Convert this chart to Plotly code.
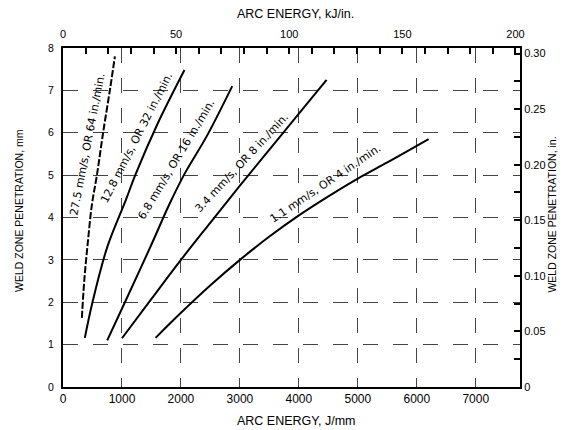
import math
import plotly.graph_objects as go

# ---- data (J/mm, mm) ----
c1_x = [320, 360, 420, 490, 575, 680, 800, 880]
c1_y = [1.63, 2.5, 3.4, 4.3, 5.0, 6.0, 7.05, 7.8]
c2_x = [370, 500, 750, 1065, 1225, 1600, 2060]
c2_y = [1.16, 2.0, 3.3, 4.41, 5.0, 6.2, 7.48]
c3_x = [750, 1050, 1480, 1800, 2050, 2450, 2870]
c3_y = [1.1, 2.0, 3.3, 4.3, 5.0, 5.95, 7.1]
c4_x = [1000, 1500, 2000, 2500, 3000, 3500, 4000, 4470]
c4_y = [1.15, 2.08, 3.0, 3.88, 4.75, 5.6, 6.45, 7.25]
c5_x = [1570, 2000, 2500, 3000, 3500, 4000, 4500, 5000, 5500, 6200]
c5_y = [1.16, 1.75, 2.4, 3.0, 3.55, 4.05, 4.5, 4.92, 5.3, 5.85]

labels = ["27.5 mm/s, OR 64 in./min.", "12.8 mm/s, OR 32 in./min.",
          "6.8 mm/s, OR 16 in./min.", "3.4 mm/s, OR 8 in./min.",
          "1.1 mm/s, OR 4 in./min."]
label_x = [490, 1340, 2000, 3085, 4510]
label_y = [5.72, 5.83, 5.3, 5.24, 4.69]
label_angle = [-79, -63, -59, -47, -34]
label_shift = [4, 6, 5, 4, 6]

bottom_ticks = [0, 1000, 2000, 3000, 4000, 5000, 6000, 7000]
left_ticks = [0, 1, 2, 3, 4, 5, 6, 7, 8]
top_ticks = [0, 50, 100, 150, 200]
right_ticks = [0, 0.05, 0.10, 0.15, 0.20, 0.25, 0.30]
right_text = ["0", "0.05", "0.10", "0.15", "0.20", "0.25", "0.30"]

FONT = "Liberation Sans"
LFONT = "DejaVu Sans"
fig = go.Figure()
curves = [(c1_x, c1_y, True), (c2_x, c2_y, False), (c3_x, c3_y, False),
          (c4_x, c4_y, False), (c5_x, c5_y, False)]
for cx, cy, dashed in curves:
    fig.add_trace(go.Scatter(x=cx, y=cy, mode="lines", line_shape="spline",
                             line=dict(color="black", width=2,
                                       dash=("7px,2px" if dashed else "solid")),
                             showlegend=False, hoverinfo="skip"))
# invisible trace for top/right axes
fig.add_trace(go.Scatter(x=[0], y=[0], xaxis="x2", yaxis="y2", mode="markers",
                         marker=dict(opacity=0), showlegend=False, hoverinfo="skip"))

for t, lx, ly, a, d in zip(labels, label_x, label_y, label_angle, label_shift):
    th = math.radians(-a)
    fig.add_annotation(x=lx, y=ly, text=t, textangle=a, showarrow=False,
                       xanchor="center", yanchor="middle",
                       xshift=-d * math.sin(th), yshift=d * math.cos(th),
                       font=dict(family=LFONT, size=11, color="black"))

fig.update_layout(
    width=563, height=430,
    margin=dict(l=63, r=43, t=48, b=43),
    plot_bgcolor="white", paper_bgcolor="white",
    xaxis=dict(range=[0, 7750], tickvals=bottom_ticks, showgrid=True,
               gridcolor="#444", gridwidth=1, griddash="longdash",
               showline=True, linecolor="black", linewidth=2, ticks="",
               tickfont=dict(family=FONT, size=12, color="black"), zeroline=False),
    yaxis=dict(range=[0, 8], tickvals=left_ticks, showgrid=True,
               gridcolor="#444", gridwidth=1, griddash="longdash",
               showline=True, linecolor="black", linewidth=2, ticks="",
               ticklabelstandoff=5,
               tickfont=dict(family=FONT, size=10.5, color="black"), zeroline=False),
    xaxis2=dict(range=[0, 202], overlaying="x", side="top", anchor="y",
                tickvals=top_ticks, showgrid=False, showline=True,
                linecolor="black", linewidth=2, ticks="inside", ticklen=6,
                tickcolor="black", tickwidth=1.5, ticklabelstandoff=4,
                minor=dict(dtick=10, ticks="inside", ticklen=6, tickcolor="black", tickwidth=1.5),
                tickfont=dict(family=FONT, size=11, color="black"), zeroline=False),
    yaxis2=dict(range=[0, 0.305], overlaying="y", side="right", anchor="x",
                tickvals=right_ticks, ticktext=right_text, showgrid=False,
                showline=True, linecolor="black", linewidth=2, ticks="inside",
                ticklen=6, tickcolor="black", tickwidth=1.5,
                minor=dict(tickvals=[0.025, 0.075, 0.125, 0.175, 0.225, 0.275], ticks="inside",
                           ticklen=6, tickcolor="black", tickwidth=1.5),
                tickfont=dict(family=FONT, size=11, color="black"), zeroline=False),
)

fig.add_annotation(xref="paper", yref="paper", x=-0.0963, y=0.522, text="WELD ZONE PENETRATION, mm",
                   textangle=-90, showarrow=False, xanchor="center", yanchor="middle",
                   font=dict(family=FONT, size=10.5, color="black"))
fig.add_annotation(xref="paper", yref="paper", x=1.071, y=0.51, text="WELD ZONE PENETRATION, in.",
                   textangle=-90, showarrow=False, xanchor="center", yanchor="middle",
                   font=dict(family=FONT, size=10.5, color="black"))
fig.add_annotation(xref="paper", yref="paper", x=0.508, y=1.10, text="ARC ENERGY, kJ/in.",
                   showarrow=False, xanchor="center", yanchor="middle",
                   font=dict(family=FONT, size=12.5, color="black"))
fig.add_annotation(xref="paper", yref="paper", x=0.512, y=-0.10, text="ARC ENERGY, J/mm",
                   showarrow=False, xanchor="center", yanchor="middle",
                   font=dict(family=FONT, size=12.5, color="black"))

fig.write_html("out.html")
